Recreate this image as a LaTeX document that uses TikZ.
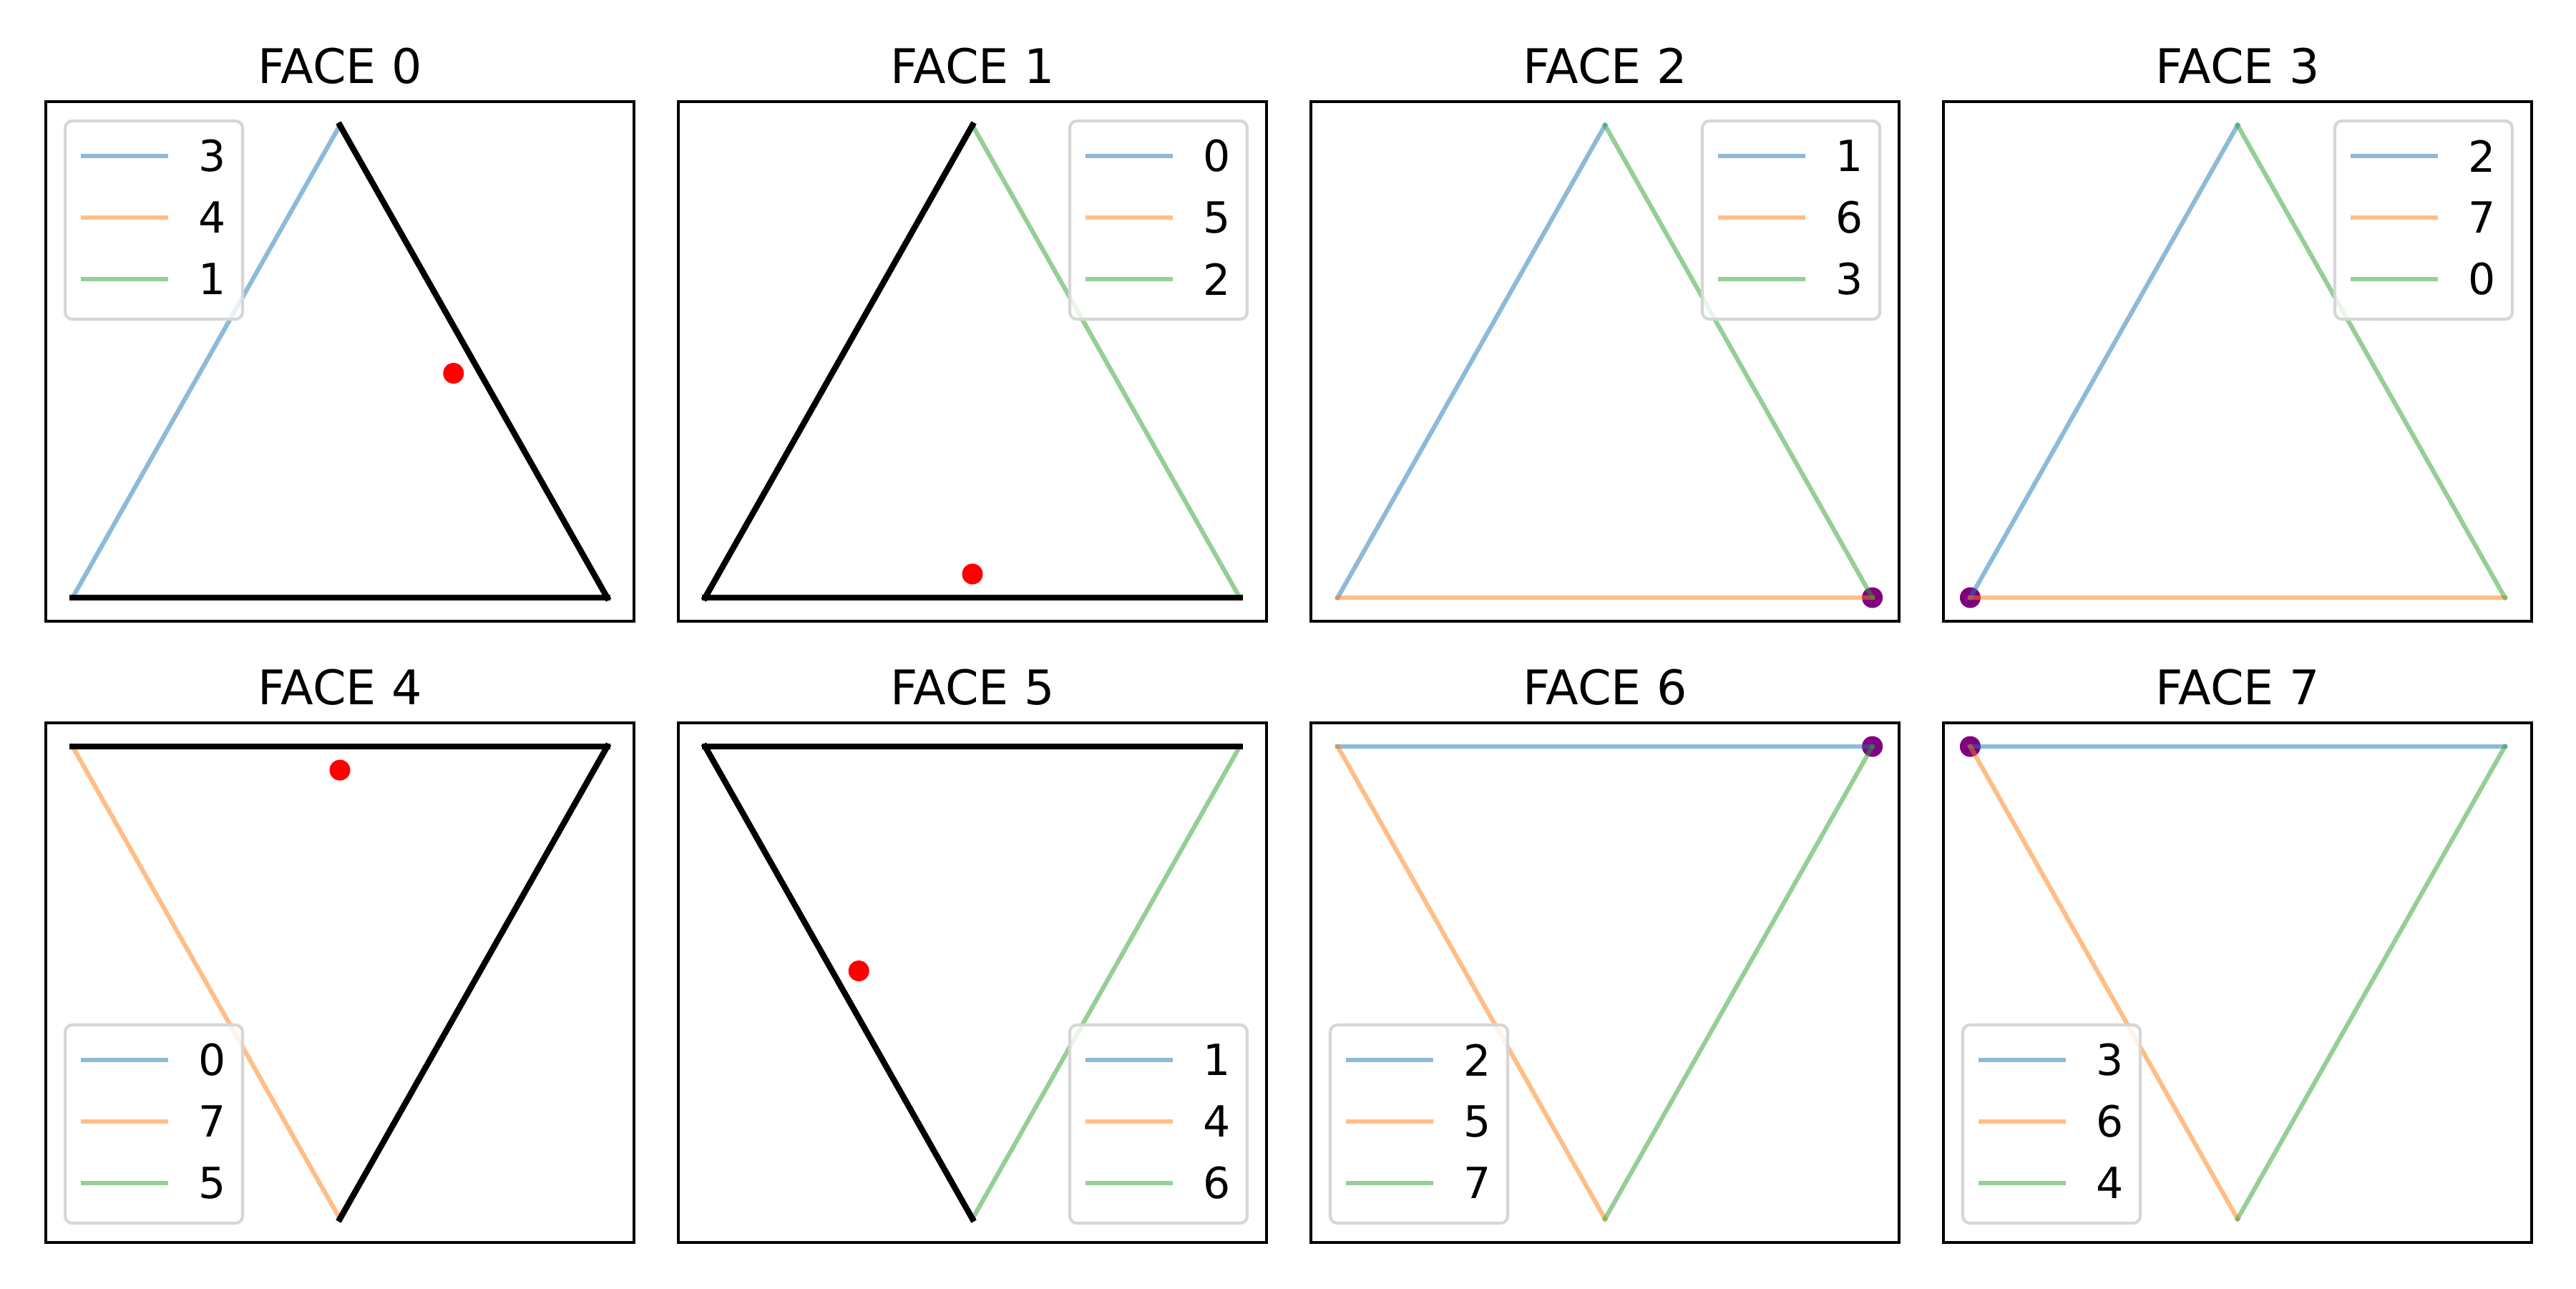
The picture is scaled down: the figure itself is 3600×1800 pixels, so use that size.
\documentclass[tikz,border=0pt]{standalone}
\usepackage{fontspec}
\setmainfont{DejaVu Sans}
\definecolor{tabblue}{HTML}{1F77B4}
\definecolor{taborange}{HTML}{FF7F0E}
\definecolor{tabgreen}{HTML}{2CA02C}
\definecolor{mplpurple}{HTML}{800080}
\definecolor{legedge}{HTML}{D6D6D6}
\tikzset{
  axframe/.style={draw=black, line width=0.8pt},
  eb/.style={draw=tabblue, draw opacity=0.5, line width=1.5pt, line cap=rect},
  eo/.style={draw=taborange, draw opacity=0.5, line width=1.5pt, line cap=rect},
  eg/.style={draw=tabgreen, draw opacity=0.5, line width=1.5pt, line cap=rect},
  lb/.style={draw=tabblue, draw opacity=0.5, line width=1.5pt},
  lo/.style={draw=taborange, draw opacity=0.5, line width=1.5pt},
  lg/.style={draw=tabgreen, draw opacity=0.5, line width=1.5pt},
  blk/.style={draw=black, line width=2pt, line cap=rect},
  reddot/.style={fill=red},
  purpdot/.style={fill=mplpurple},
  legbox/.style={draw=legedge, fill=white, fill opacity=0.8, line width=1pt, rounded corners=2.4pt},
  legtxt/.style={font=\fontsize{14.4}{17}\selectfont, inner sep=0pt, anchor=center},
  ttl/.style={font=\fontsize{16}{19}\selectfont, inner sep=0pt, anchor=base}
}
% upright triangle: A bottom-left, B bottom-right, C apex
\newcommand{\mkup}[1]{%
  \coordinate (A#1) at (37.4,693);
  \coordinate (B#1) at (784.6,693);
  \coordinate (C#1) at (411,33);}
% inverted triangle: A top-left, B top-right, C bottom
\newcommand{\mkdown}[1]{%
  \coordinate (A#1) at (37.4,33);
  \coordinate (B#1) at (784.6,33);
  \coordinate (C#1) at (411,693);}
% legend: #1 x, #2 y of box top-left (local), #3 #4 #5 labels, #6 panel id
\newcommand{\legendat}[6]{%
  \draw[legbox] (#1,#2) rectangle ++(248,277);
  \coordinate (h#6a) at (#1+22,#2+49);
  \coordinate (h#6b) at (#1+22,#2+135);
  \coordinate (h#6c) at (#1+22,#2+221);
  \draw[lb] (h#6a) -- ++(122,0);
  \draw[lo] (h#6b) -- ++(122,0);
  \draw[lg] (h#6c) -- ++(122,0);
  \node[legtxt] (k#6a) at (#1+206,#2+49) {#3};
  \node[legtxt] (k#6b) at (#1+206,#2+135) {#4};
  \node[legtxt] (k#6c) at (#1+206,#2+221) {#5};}
\newcommand{\axbox}[2]{%
  \draw[axframe] (0,0) rectangle (822,726);
  \node[ttl] (t#1) at (411,-26) {FACE #2};}
\begin{document}
\begin{tikzpicture}[x=0.24pt,y=-0.24pt]
\useasboundingbox (0,0) rectangle (3600,1800);
\fill[white] (0,0) rectangle (3600,1800);

% ---------- FACE 0 ----------
\begin{scope}[shift={(64,142)}]
  \mkup{0}
  \fill[reddot] (569.8,379.5) circle[radius=14.5];
  \draw[eb] (A0) -- (C0);
  \draw[eo] (A0) -- (B0);
  \draw[eg] (B0) -- (C0);
  \draw[blk] (B0) -- (C0);
  \draw[blk] (A0) -- (B0);
  \axbox{0}{0}
  \legendat{27}{27}{3}{4}{1}{0}
\end{scope}

% ---------- FACE 1 ----------
\begin{scope}[shift={(948,142)}]
  \mkup{1}
  \fill[reddot] (411,660) circle[radius=14.5];
  \draw[eb] (A1) -- (C1);
  \draw[eo] (A1) -- (B1);
  \draw[eg] (B1) -- (C1);
  \draw[blk] (A1) -- (C1);
  \draw[blk] (A1) -- (B1);
  \axbox{1}{1}
  \legendat{547}{27}{0}{5}{2}{1}
\end{scope}

% ---------- FACE 2 ----------
\begin{scope}[shift={(1832,142)}]
  \mkup{2}
  \fill[purpdot] (B2) circle[radius=14.5];
  \draw[eb] (A2) -- (C2);
  \draw[eo] (A2) -- (B2);
  \draw[eg] (B2) -- (C2);
  \axbox{2}{2}
  \legendat{547}{27}{1}{6}{3}{2}
\end{scope}

% ---------- FACE 3 ----------
\begin{scope}[shift={(2716,142)}]
  \mkup{3}
  \fill[purpdot] (A3) circle[radius=14.5];
  \draw[eb] (A3) -- (C3);
  \draw[eo] (A3) -- (B3);
  \draw[eg] (B3) -- (C3);
  \axbox{3}{3}
  \legendat{547}{27}{2}{7}{0}{3}
\end{scope}

% ---------- FACE 4 ----------
\begin{scope}[shift={(64,1010)}]
  \mkdown{4}
  \fill[reddot] (411,66) circle[radius=14.5];
  \draw[eb] (A4) -- (B4);
  \draw[eo] (A4) -- (C4);
  \draw[eg] (B4) -- (C4);
  \draw[blk] (A4) -- (B4);
  \draw[blk] (B4) -- (C4);
  \axbox{4}{4}
  \legendat{27}{422}{0}{7}{5}{4}
\end{scope}

% ---------- FACE 5 ----------
\begin{scope}[shift={(948,1010)}]
  \mkdown{5}
  \fill[reddot] (252.2,346.5) circle[radius=14.5];
  \draw[eb] (A5) -- (B5);
  \draw[eo] (A5) -- (C5);
  \draw[eg] (B5) -- (C5);
  \draw[blk] (A5) -- (B5);
  \draw[blk] (A5) -- (C5);
  \axbox{5}{5}
  \legendat{547}{422}{1}{4}{6}{5}
\end{scope}

% ---------- FACE 6 ----------
\begin{scope}[shift={(1832,1010)}]
  \mkdown{6}
  \fill[purpdot] (B6) circle[radius=14.5];
  \draw[eb] (A6) -- (B6);
  \draw[eo] (A6) -- (C6);
  \draw[eg] (B6) -- (C6);
  \axbox{6}{6}
  \legendat{27}{422}{2}{5}{7}{6}
\end{scope}

% ---------- FACE 7 ----------
\begin{scope}[shift={(2716,1010)}]
  \mkdown{7}
  \fill[purpdot] (A7) circle[radius=14.5];
  \draw[eb] (A7) -- (B7);
  \draw[eo] (A7) -- (C7);
  \draw[eg] (B7) -- (C7);
  \axbox{7}{7}
  \legendat{27}{422}{3}{6}{4}{7}
\end{scope}
\end{tikzpicture}
\end{document}
